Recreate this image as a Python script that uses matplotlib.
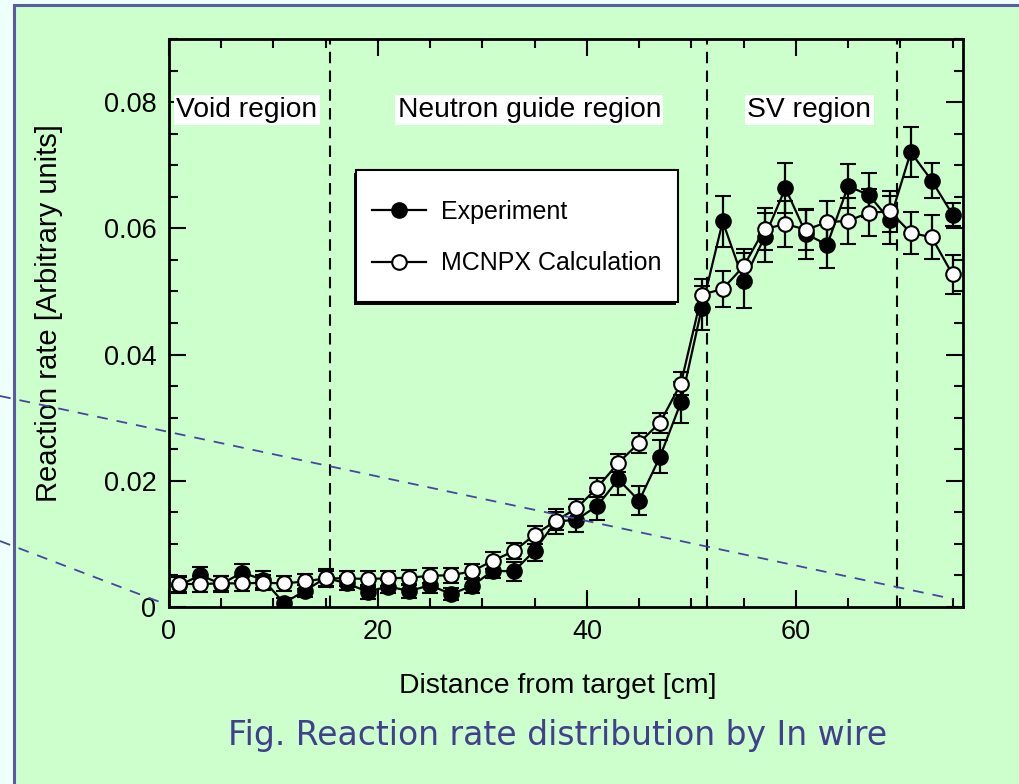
import matplotlib.pyplot as plt
from matplotlib.lines import Line2D
from matplotlib.patches import Rectangle
from matplotlib.ticker import MultipleLocator, FuncFormatter

plt.rcParams['font.family'] = ['Liberation Sans', 'DejaVu Sans']

# data
distance = [1, 3, 5, 7, 9, 11, 13, 15, 17, 19, 21, 23, 25, 27, 29, 31, 33, 35, 37,
            39, 41, 43, 45, 47, 49, 51, 53, 55, 57, 59, 61, 63, 65, 67, 69, 71, 73, 75]

experiment = [0.0034, 0.0050, 0.0036, 0.0054, 0.0043, 0.0006, 0.0025, 0.0046, 0.0037,
              0.0024, 0.0032, 0.0025, 0.0034, 0.0020, 0.0033, 0.0057, 0.0056, 0.0089,
              0.0135, 0.0138, 0.0160, 0.0202, 0.0168, 0.0238, 0.0324, 0.0474, 0.0611,
              0.0517, 0.0586, 0.0664, 0.0591, 0.0574, 0.0667, 0.0653, 0.0613, 0.0721,
              0.0676, 0.0622]
experiment_err = [0.0013, 0.0013, 0.0013, 0.0013, 0.0013, 0.0008, 0.0010, 0.0014, 0.0011,
                  0.0011, 0.0011, 0.0011, 0.0012, 0.0010, 0.0012, 0.0012, 0.0015, 0.0017,
                  0.0020, 0.0020, 0.0022, 0.0025, 0.0023, 0.0026, 0.0032, 0.0035, 0.0040,
                  0.0044, 0.0039, 0.0039, 0.0039, 0.0036, 0.0035, 0.0035, 0.0038, 0.0040,
                  0.0028, 0.0018]

calculation = [0.0036, 0.0036, 0.0037, 0.0037, 0.0038, 0.0037, 0.0040, 0.0045, 0.0045,
               0.0044, 0.0045, 0.0046, 0.0049, 0.0050, 0.0056, 0.0073, 0.0088, 0.0114,
               0.0136, 0.0156, 0.0189, 0.0228, 0.0260, 0.0292, 0.0354, 0.0495, 0.0504,
               0.0540, 0.0599, 0.0607, 0.0598, 0.0610, 0.0612, 0.0625, 0.0627, 0.0593,
               0.0586, 0.0527]
calculation_err = [0.0012, 0.0012, 0.0012, 0.0012, 0.0012, 0.0012, 0.0012, 0.0012, 0.0012,
                   0.0012, 0.0012, 0.0012, 0.0012, 0.0012, 0.0012, 0.0013, 0.0013, 0.0014,
                   0.0015, 0.0015, 0.0015, 0.0015, 0.0016, 0.0016, 0.0018, 0.0025, 0.0028,
                   0.0028, 0.0033, 0.0036, 0.0033, 0.0033, 0.0036, 0.0037, 0.0033, 0.0033,
                   0.0035, 0.0031]

region_bounds = [15.4, 51.5, 69.7]
region_names = ['Void region', 'Neutron guide region', 'SV region']
region_label_x = [7.45, 34.5, 61.3]

GREEN = '#ccffcc'
BLUE = '#4646a0'

fig = plt.figure(figsize=(10.19, 7.84), dpi=100, facecolor='#eefffc')

# slide panel with blue frame
panel = Rectangle((13.5 / 1019, -0.1), 1.2, 1 - 5.5 / 784 + 0.1,
                  transform=fig.transFigure, facecolor=GREEN,
                  edgecolor='#5a5aa6', linewidth=2.2)
panel.set_zorder(-5)
fig.add_artist(panel)

ax = fig.add_axes([169 / 1019, 1 - 606.7 / 784, 794 / 1019, 567.4 / 784])
ax.set_facecolor('none')
ax.set_zorder(1)

style = dict(fmt='-o', color='black', markeredgecolor='black', markersize=10.5,
             markeredgewidth=1.5, linewidth=1.6, elinewidth=1.6, capsize=6, capthick=1.6)
ax.errorbar(distance, experiment, yerr=experiment_err, markerfacecolor='black',
            zorder=3, **style)
ax.errorbar(distance, calculation, yerr=calculation_err, markerfacecolor='white',
            zorder=4, **style)

for b in region_bounds:
    ax.axvline(b, color='black', linestyle=(0, (5.5, 3.5)), linewidth=1.5, zorder=2)

for name, xpos in zip(region_names, region_label_x):
    ax.text(xpos, 0.0788, name, ha='center', va='center', fontsize=20.3,
            bbox=dict(boxstyle='square,pad=0.08', facecolor='white', edgecolor='none'),
            zorder=5)

ax.set_xlim(0, 76)
ax.set_ylim(0, 0.09)
ax.xaxis.set_major_locator(MultipleLocator(20))
ax.xaxis.set_minor_locator(MultipleLocator(5))
ax.yaxis.set_major_locator(MultipleLocator(0.02))
ax.yaxis.set_minor_locator(MultipleLocator(0.005))
ax.yaxis.set_major_formatter(FuncFormatter(lambda v, p: '0' if abs(v) < 1e-9 else f'{v:.2f}'))

ax.tick_params(which='both', direction='in', top=True, right=True, width=1.5,
               labelsize=19.5, pad=9)
ax.tick_params(which='major', length=12)
ax.tick_params(which='minor', length=6.5)
for s in ax.spines.values():
    s.set_linewidth(2)

ax.set_xlabel('Distance from target [cm]', fontsize=20.4)
ax.xaxis.set_label_coords(0.489, -0.117)
ax.set_ylabel('Reaction rate [Arbitrary units]', fontsize=21)
ax.yaxis.set_label_coords(-0.134, 0.518)

# legend box (drawn separately so its padding matches the original)
ax.add_patch(Rectangle((0.233, 0.532), 0.405, 0.2325, transform=ax.transAxes,
                       facecolor='black', edgecolor='none', zorder=5))
ax.add_patch(Rectangle((0.236, 0.5375), 0.405, 0.2325, transform=ax.transAxes,
                       facecolor='white', edgecolor='black', linewidth=1.5, zorder=6))
handles = [Line2D([], [], color='black', marker='o', markersize=10.5, linewidth=1.6,
                  markerfacecolor=fc, markeredgecolor='black', markeredgewidth=1.5)
           for fc in ('black', 'white')]
leg = ax.legend(handles, ['Experiment', 'MCNPX Calculation'], loc='center left',
                bbox_to_anchor=(0.2557, 0.6505), fontsize=18, frameon=False,
                handlelength=2.15, handletextpad=0.6, labelspacing=1.1,
                borderpad=0, borderaxespad=0)
leg.set_zorder(7)

# pointer lines from the slide
fig.add_artist(Line2D([0, 0.9352], [0.4949, 0.2360], transform=fig.transFigure,
                      color=BLUE, linestyle=(0, (6, 5)), linewidth=1.3, zorder=2))
fig.add_artist(Line2D([0, 0.157], [0.3099, 0.2321], transform=fig.transFigure,
                      color=BLUE, linestyle=(0, (6, 5)), linewidth=1.3, zorder=2))

fig.text(0.5476, 0.0625, 'Fig. Reaction rate distribution by In wire',
         ha='center', va='center', fontsize=23.8, color='#40408f', family='DejaVu Sans')

fig.savefig('out.png', dpi=100, facecolor=fig.get_facecolor())
